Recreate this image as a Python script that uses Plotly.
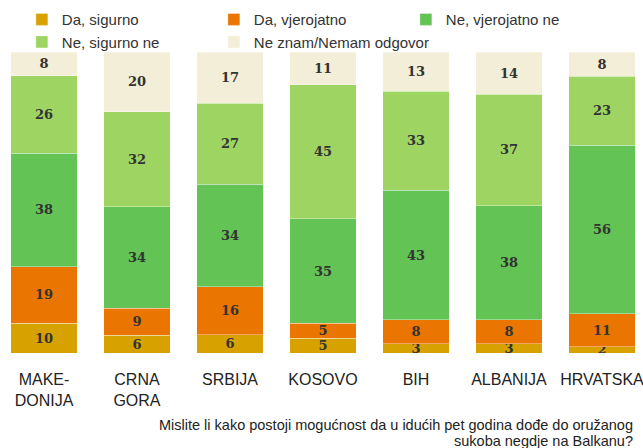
import plotly.graph_objects as go

categories = ["MAKE-<br>DONIJA", "CRNA<br>GORA", "SRBIJA", "KOSOVO", "BIH", "ALBANIJA", "HRVATSKA"]
series_names = ["Da, sigurno", "Da, vjerojatno", "Ne, vjerojatno ne", "Ne, sigurno ne", "Ne znam/Nemam odgovor"]
da_sigurno = [10, 6, 6, 5, 3, 3, 2]
da_vjerojatno = [19, 9, 16, 5, 8, 8, 11]
ne_vjerojatno = [38, 34, 34, 35, 43, 38, 56]
ne_sigurno = [26, 32, 27, 45, 33, 37, 23]
ne_znam = [8, 20, 17, 11, 13, 14, 8]
colors = ["#D7A200", "#EA7500", "#63C355", "#9ED562", "#F3EED7"]
question_lines = ["Mislite li kako postoji mogućnost da u idućih pet godina dođe do oružanog",
                  "sukoba negdje na Balkanu?"]

fig = go.Figure()
for name, vals, col in zip(series_names, [da_sigurno, da_vjerojatno, ne_vjerojatno, ne_sigurno, ne_znam], colors):
    fig.add_trace(go.Bar(
        name=name, x=categories, y=vals, marker=dict(color=col, line=dict(color="rgba(255,255,255,0.35)", width=1)),
        text=[str(v) for v in vals], textposition="inside", insidetextanchor="middle",
        constraintext="none", textangle=0,
        textfont=dict(family="DejaVu Serif", size=13, color="#333333"),
        texttemplate="<b>%{text}</b>", hoverinfo="skip",
    ))

fig.update_layout(
    barmode="stack", barnorm="percent", bargap=0.29,
    width=643, height=448,
    margin=dict(l=0, r=0, t=52, b=95, autoexpand=False),
    paper_bgcolor="white", plot_bgcolor="white",
    uniformtext=dict(minsize=13, mode="show"),
    font=dict(family="Liberation Sans, Arial", color="#333333"),
    legend=dict(orientation="h", x=0.034, y=0.993, yref="container", yanchor="top", xanchor="left",
                entrywidth=147, entrywidthmode="pixels", traceorder="normal",
                font=dict(size=15, color="#333333"),
                bgcolor="rgba(0,0,0,0)", itemwidth=30),
    showlegend=True,
)
fig.update_xaxes(range=[-0.473, 6.441], showgrid=False, zeroline=False, showline=False, automargin=False,
                 tickfont=dict(size=16, color="#222222"), ticks="outside", ticklen=12, tickcolor="rgba(0,0,0,0)")
fig.update_yaxes(range=[0, 100], visible=False)
for i, line in enumerate(question_lines):
    fig.add_annotation(text=line, xref="paper", yref="paper", x=0.987, y=(353 - 425 - i * 16) / 301,
                       xanchor="right", yanchor="middle", align="right", showarrow=False,
                       font=dict(size=14.5, color="#222222"))
fig.write_html("out.html", config={"displayModeBar": False},
               post_script="document.body.style.margin='0';document.body.style.overflow='hidden';")
